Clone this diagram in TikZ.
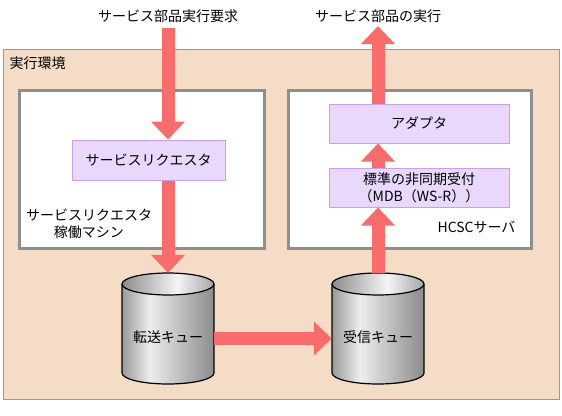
\documentclass[tikz,border=0pt]{standalone}
\usepackage{fontspec}
\setmainfont{Noto Sans CJK JP}
\usetikzlibrary{arrows.meta,positioning}
\definecolor{envfill}{RGB}{244,220,198}
\definecolor{envline}{RGB}{196,140,96}
\definecolor{hostline}{RGB}{142,142,142}
\definecolor{compfill}{RGB}{233,216,252}
\definecolor{compline}{RGB}{200,160,240}
\definecolor{flow}{RGB}{248,108,108}
\pgfdeclarehorizontalshading{metalbody}{100bp}{color(0bp)=(black!40); color(25bp)=(black!40); color(40bp)=(black!7); color(75bp)=(black!45); color(100bp)=(black!45)}
\pgfdeclarehorizontalshading{metaltop}{100bp}{color(0bp)=(black!45); color(25bp)=(black!45); color(55bp)=(black!4); color(75bp)=(black!35); color(100bp)=(black!35)}
% cylinder of a queue, #1 = x of its axis
\newcommand{\queueshape}[1]{%
  \shade[shading=metalbody] (#1-46,284) -- (#1-46,373)
    arc[start angle=180,end angle=360,x radius=46pt,y radius=11pt] -- (#1+46,284) -- cycle;
  \draw[line width=1.2pt] (#1-46,284) -- (#1-46,373)
    arc[start angle=180,end angle=360,x radius=46pt,y radius=11pt] -- (#1+46,284);
  \shade[shading=metaltop,draw=black,line width=1.2pt] (#1,284) ellipse[x radius=46pt,y radius=11pt];}

\begin{document}
\begin{tikzpicture}[x=1pt,y=-1pt,font=\fontsize{14}{17}\selectfont,
  env/.style={draw=envline,fill=envfill,line width=1pt,inner sep=0pt},
  host/.style={draw=hostline,fill=white,line width=3pt,inner sep=0pt,minimum height=158pt},
  comp/.style={draw=compline,fill=compfill,line width=1pt,inner sep=0pt,align=center,
    minimum width=180pt,minimum height=39pt},
  queue/.style={inner sep=0pt,minimum width=92pt,minimum height=111pt,text height=27pt,text depth=0pt},
  flowarrow/.style={draw=flow,line width=13pt,-{Triangle[length=18pt,width=33pt]}}]
  \useasboundingbox (0,0) rectangle (562,415);
  \node[env,minimum width=556.5pt,minimum height=349.5pt] (env) at (281.25,224.25) {};
  \node[anchor=west] (envlbl) at (6,63) {実行環境};
  \node[host,minimum width=244.5pt] (reqhost) at (141.75,169) {};
  \node[host,minimum width=242.5pt] (hcsc) at (409.75,169) {};
  \node[align=center] (reqhostlbl) at (89,224) {サービスリクエスタ\\稼働マシン};
  \node[anchor=east] (hcsclbl) at (519,227) {HCSCサーバ};
  \node[comp,minimum width=153pt,minimum height=40pt] (req) at (148.5,160) {サービスリクエスタ};
  \node[comp] (ada) at (419,123.5) {アダプタ};
  \node[comp] (std) at (419,187.5) {標準の非同期受付\\（MDB（WS-R））};
  \queueshape{168}
  \queueshape{378}
  \node[queue] (tq) at (168,328.5) {転送キュー};
  \node[queue] (rq) at (378,328.5) {受信キュー};
  \node (calllbl) at (168,16) {サービス部品実行要求};
  \node (runlbl) at (378,16) {サービス部品の実行};
  % flow of the request
  \draw[flowarrow] (calllbl.south |- 0,28) -- (req.north -| calllbl.south);
  \draw[flowarrow] (req.south -| tq.north) -- (tq.north);
  \draw[flowarrow] ([yshift=-10pt]tq.east) -- ([yshift=-10pt]rq.west);
  \draw[flowarrow] (rq.north) -- (rq.north |- std.south);
  \draw[flowarrow] (rq.north |- std.north) -- (rq.north |- ada.south);
  \draw[flowarrow] (rq.north |- ada.north) -- (runlbl.south |- 0,26);
\end{tikzpicture}
\end{document}
